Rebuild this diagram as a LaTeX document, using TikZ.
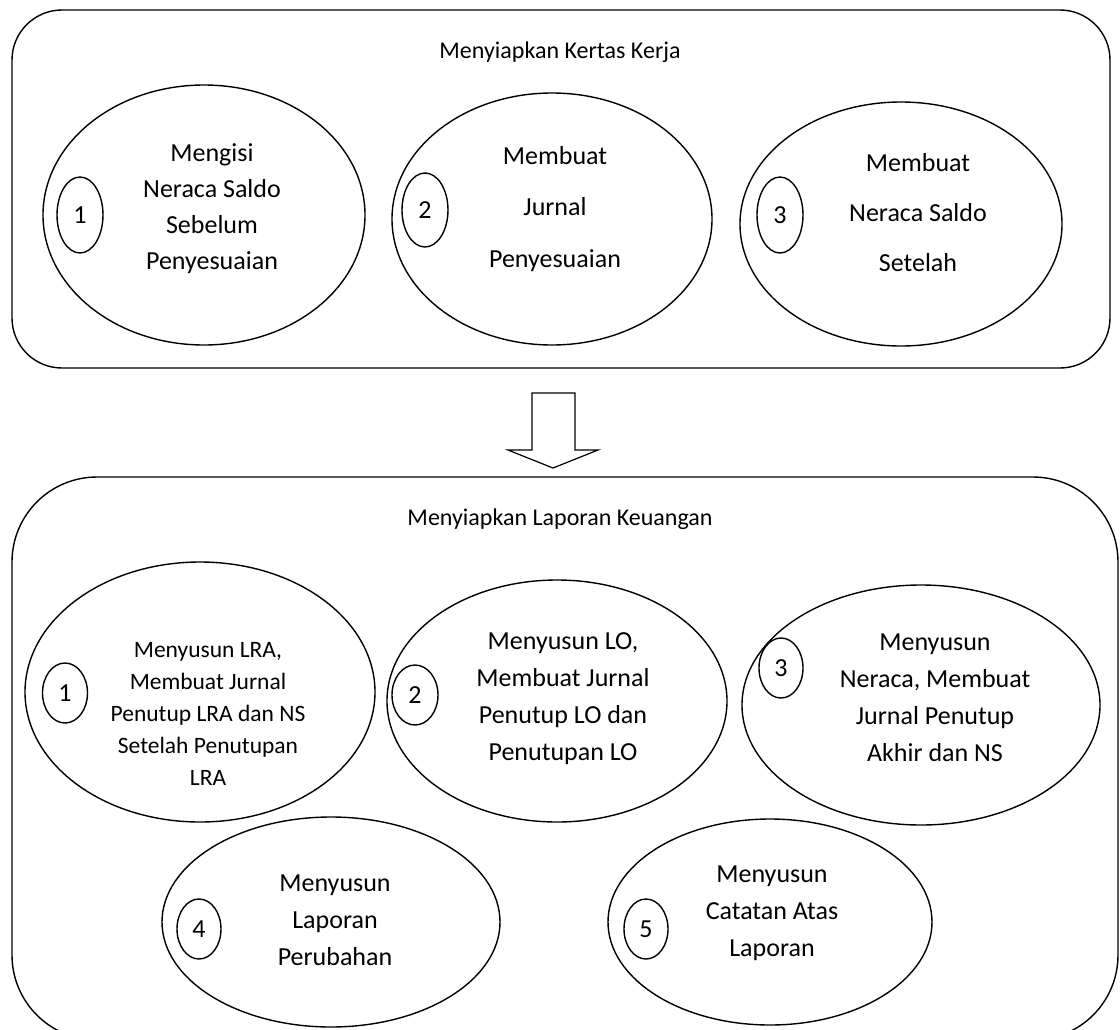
\documentclass[tikz,border=0pt]{standalone}
\usepackage{fontspec}
\setmainfont{Carlito}
\usetikzlibrary{shapes.geometric}
\begin{document}
\begin{tikzpicture}[x=1pt,y=-1pt,
  line width=1.4pt,
  panel/.style={draw},
  big/.style={draw, ellipse, inner sep=0pt},
  num/.style={draw, ellipse, inner sep=0pt, minimum width=46pt, font=\fontsize{26}{30}\selectfont},
  title/.style={font=\fontsize{24}{28}\selectfont},
  body/.style={align=center, inner sep=0pt, font=\fontsize{26}{#1}\selectfont},
  bodys/.style={align=center, inner sep=0pt, font=\fontsize{23.5}{#1}\selectfont}]
\useasboundingbox (0,0) rectangle (1120,1029);
\clip (0,0) rectangle (1120,1029);
% panels
\draw[panel, rounded corners=50pt] (12,10) rectangle (1110,368);
\draw[panel, rounded corners=85pt] (12,477) rectangle (1118,1040);
\node[title] (t1) at (560,52) {Menyiapkan Kertas Kerja};
\node[title] (t2) at (560,519) {Menyiapkan Laporan Keuangan};
% block arrow
\draw[line width=1.2pt, line join=miter] (532,393) -- (575,393) -- (575,450) -- (598,450) -- (553,468) -- (508,450) -- (532,450) -- cycle;
% top ellipses
\node[big, minimum width=322pt, minimum height=260pt] (e1) at (204,215) {};
\node[num, minimum height=76pt] (n1) at (80,215) {1};
\node[body=36pt] (x1) at (212,209) {Mengisi\\Neraca Saldo\\Sebelum\\Penyesuaian};
\node[big, minimum width=320pt, minimum height=252pt] (e2) at (552,219) {};
\node[num, minimum height=74pt] (n2) at (425,210) {2};
\node[body=51.5pt] (x2) at (555,209) {Membuat\\Jurnal\\Penyesuaian};
\node[big, minimum width=322pt, minimum height=244pt] (e3) at (901,224) {};
\node[num, minimum height=76pt] (n3) at (780,215) {3};
\node[body=50pt] (x3) at (918,213) {Membuat\\Neraca Saldo\\Setelah};
% bottom ellipses
\node[big, minimum width=350pt, minimum height=260pt] (b1) at (200,692) {};
\node[num, minimum width=45pt, minimum height=60pt] (m1) at (65,693) {1};
\node[bodys=32pt] (y1) at (208,714) {Menyusun LRA,\\Membuat Jurnal\\Penutup LRA dan NS\\Setelah Penutupan\\LRA};
\node[big, minimum width=340pt, minimum height=242pt] (b2) at (557,701) {};
\node[num, minimum height=60pt] (m2) at (415,695) {2};
\node[body=37pt] (y2) at (563,699) {Menyusun LO,\\Membuat Jurnal\\Penutup LO dan\\Penutupan LO};
\node[big, minimum width=358pt, minimum height=240pt] (b3) at (921,705) {};
\node[num, minimum width=44pt, minimum height=60pt] (m3) at (781,668) {3};
\node[body=37pt] (y3) at (935,698) {Menyusun\\Neraca, Membuat\\Jurnal Penutup\\Akhir dan NS};
\node[big, minimum width=338pt, minimum height=210pt] (b4) at (331,922) {};
\node[num, minimum width=44pt, minimum height=60pt] (m4) at (199,929) {4};
\node[body=37pt] (y4) at (335,920) {Menyusun\\Laporan\\Perubahan};
\node[big, minimum width=324pt, minimum height=206pt] (b5) at (770,922) {};
\node[num, minimum width=44pt, minimum height=60pt] (m5) at (646,929) {5};
\node[body=37pt] (y5) at (772,913) {Menyusun\\Catatan Atas\\Laporan};
\end{tikzpicture}
\end{document}
